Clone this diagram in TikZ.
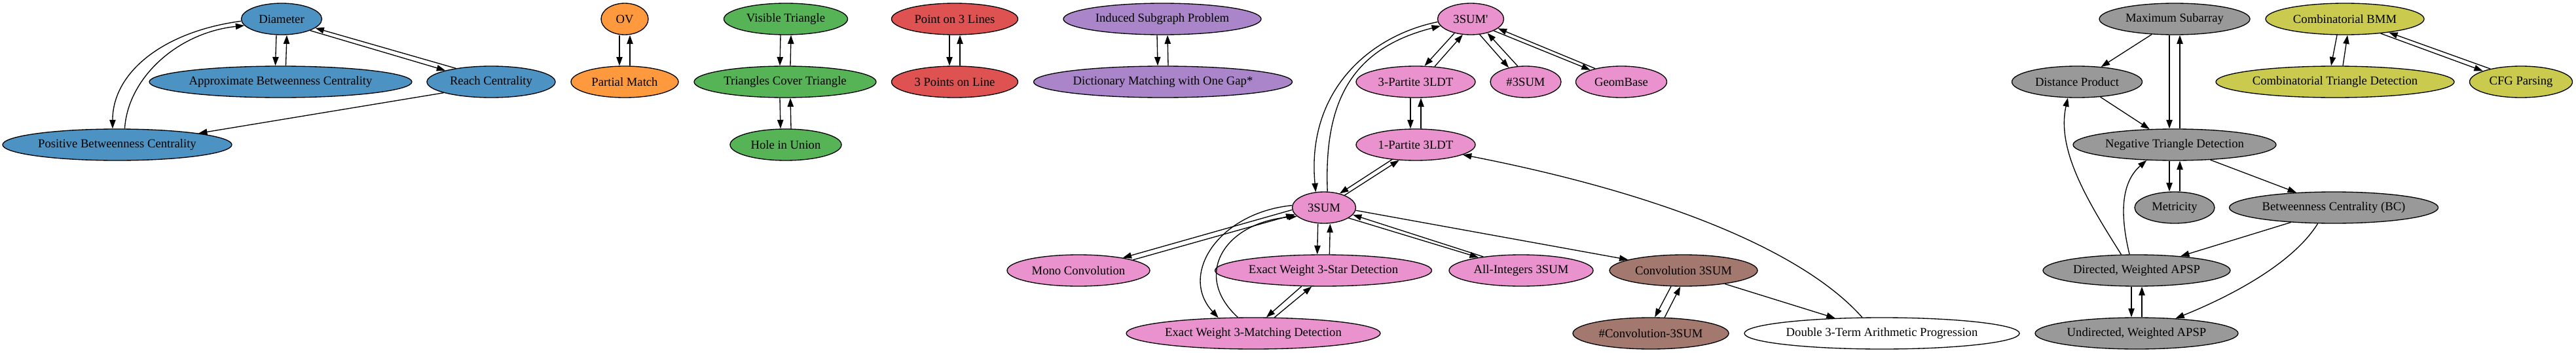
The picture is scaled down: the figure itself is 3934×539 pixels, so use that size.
\documentclass[tikz,border=0pt]{standalone}
\usepackage{fontspec}
\setmainfont{Liberation Serif}
\usetikzlibrary{shapes.geometric,arrows.meta}
\definecolor{cblue}{RGB}{76,146,195}
\definecolor{corange}{RGB}{255,153,62}
\definecolor{cgreen}{RGB}{86,179,86}
\definecolor{cred}{RGB}{222,82,82}
\definecolor{cpurple}{RGB}{170,133,202}
\definecolor{cbrown}{RGB}{163,120,111}
\definecolor{cpink}{RGB}{233,146,206}
\definecolor{cgray}{RGB}{153,153,153}
\definecolor{colive}{RGB}{201,202,78}
\newcommand\nodelbl[1]{\makebox[0pt]{#1}}
\tikzset{
  nd/.style={ellipse, draw=black, line width=1pt, inner sep=0pt, minimum height=36pt,
    font=\fontsize{14pt}{16pt}\selectfont},
  e/.style={-{Triangle[length=10pt,width=7pt]}, line width=1pt},
}
\begin{document}
\begin{tikzpicture}[x=0.75pt,y=-0.75pt]
\fill[white] (0,0) rectangle (3934,539);
\useasboundingbox (0,0) rectangle (3934,539);
% blue
\node[nd,fill=cblue,minimum width=92.25pt] (diam) at (430,29) {\nodelbl{Diameter}};
\node[nd,fill=cblue,minimum width=300.75pt] (abc) at (428.5,125) {\nodelbl{Approximate Betweenness Centrality}};
\node[nd,fill=cblue,minimum width=147pt] (reach) at (750,125) {\nodelbl{Reach Centrality}};
\node[nd,fill=cblue,minimum width=262.5pt] (pbc) at (179,221) {\nodelbl{Positive Betweenness Centrality}};
% orange
\node[nd,fill=corange,minimum width=54pt] (ov) at (954,29) {\nodelbl{OV}};
\node[nd,fill=corange,minimum width=123pt] (pm) at (954,125) {\nodelbl{Partial Match}};
% green
\node[nd,fill=cgreen,minimum width=141.75pt] (vt) at (1200,29) {\nodelbl{Visible Triangle}};
\node[nd,fill=cgreen,minimum width=208.5pt] (tct) at (1199,125) {\nodelbl{Triangles Cover Triangle}};
\node[nd,fill=cgreen,minimum width=127.5pt] (hiu) at (1200,221) {\nodelbl{Hole in Union}};
% red
\node[nd,fill=cred,minimum width=144.75pt] (p3l) at (1458,29) {\nodelbl{Point on 3 Lines}};
\node[nd,fill=cred,minimum width=144.75pt] (tpl) at (1458,125) {\nodelbl{3 Points on Line}};
% purple
\node[nd,fill=cpurple,minimum width=226.5pt] (isp) at (1775,29) {\nodelbl{Induced Subgraph Problem}};
\node[nd,fill=cpurple,minimum width=296.25pt] (dm) at (1776,125) {\nodelbl{Dictionary Matching with One Gap*}};
% pink / brown
\node[nd,fill=cpink,minimum width=75.75pt] (s3p) at (2246,29) {\nodelbl{3SUM\textquotesingle}};
\node[nd,fill=cpink,minimum width=136.5pt] (p3ldt) at (2162,125) {\nodelbl{3-Partite 3LDT}};
\node[nd,fill=cpink,minimum width=81pt] (h3sum) at (2330,125) {\nodelbl{\#3SUM}};
\node[nd,fill=cpink,minimum width=104.25pt] (geom) at (2476,125) {\nodelbl{GeomBase}};
\node[nd,fill=cpink,minimum width=136.5pt] (p1ldt) at (2162,221) {\nodelbl{1-Partite 3LDT}};
\node[nd,fill=cpink,minimum width=72.75pt] (s3) at (2022,317) {\nodelbl{3SUM}};
\node[nd,fill=cpink,minimum width=163.5pt] (mono) at (1647,413) {\nodelbl{Mono Convolution}};
\node[nd,fill=cpink,minimum width=248.25pt] (ew3s) at (2021,413) {\nodelbl{Exact Weight 3-Star Detection}};
\node[nd,fill=cpink,minimum width=165pt] (ai3) at (2323,413) {\nodelbl{All-Integers 3SUM}};
\node[nd,fill=cbrown,minimum width=169.5pt] (c3s) at (2571,413) {\nodelbl{Convolution 3SUM}};
\node[nd,fill=cpink,minimum width=291pt] (ew3m) at (1914,509) {\nodelbl{Exact Weight 3-Matching Detection}};
\node[nd,fill=cbrown,minimum width=178.5pt] (hc3s) at (2521,509) {\nodelbl{\#Convolution-3SUM}};
\node[nd,fill=white,minimum width=315pt] (d3t) at (2874,509) {\nodelbl{Double 3-Term Arithmetic Progression}};
% gray
\node[nd,fill=cgray,minimum width=172.5pt] (ms) at (3321,29) {\nodelbl{Maximum Subarray}};
\node[nd,fill=cgray,minimum width=149.25pt] (dp) at (3172,125) {\nodelbl{Distance Product}};
\node[nd,fill=cgray,minimum width=232.5pt] (ntd) at (3321,221) {\nodelbl{Negative Triangle Detection}};
\node[nd,fill=cgray,minimum width=91.5pt] (met) at (3321,317) {\nodelbl{Metricity}};
\node[nd,fill=cgray,minimum width=239.25pt] (bc) at (3564,317) {\nodelbl{Betweenness Centrality (BC)}};
\node[nd,fill=cgray,minimum width=214.5pt] (dapsp) at (3263,413) {\nodelbl{Directed, Weighted APSP}};
\node[nd,fill=cgray,minimum width=232.5pt] (uapsp) at (3263,509) {\nodelbl{Undirected, Weighted APSP}};
% olive
\node[nd,fill=colive,minimum width=181.5pt] (cbmm) at (3581,29) {\nodelbl{Combinatorial BMM}};
\node[nd,fill=colive,minimum width=273pt] (ctd) at (3566,125) {\nodelbl{Combinatorial Triangle Detection}};
\node[nd,fill=colive,minimum width=117.75pt] (cfg) at (3850,125) {\nodelbl{CFG Parsing}};

% ---- edges: blue
\draw[e] ([xshift=-6pt]diam.south) -- ([xshift=-6pt]abc.north);
\draw[e] ([xshift=6pt]abc.north) -- ([xshift=6pt]diam.south);
\draw[e] (diam.-22) -- (reach.166);
\draw[e] (reach.159) -- (diam.-15);
\draw[e] (diam.183) .. controls (250,48) and (172,110) .. (pbc.106);
\draw[e] (pbc.65) .. controls (195,120) and (270,50) .. (diam.190);
\draw[e] (reach.193) -- (pbc.8);
% orange, green, red, purple
\draw[e] ([xshift=-6pt]ov.south) -- ([xshift=-6pt]pm.north);
\draw[e] ([xshift=6pt]pm.north) -- ([xshift=6pt]ov.south);
\draw[e] ([xshift=-6pt]vt.south) -- ([xshift=-6pt]tct.north);
\draw[e] ([xshift=6pt]tct.north) -- ([xshift=6pt]vt.south);
\draw[e] ([xshift=-6pt]tct.south) -- ([xshift=-6pt]hiu.north);
\draw[e] ([xshift=6pt]hiu.north) -- ([xshift=6pt]tct.south);
\draw[e] ([xshift=-6pt]p3l.south) -- ([xshift=-6pt]tpl.north);
\draw[e] ([xshift=6pt]tpl.north) -- ([xshift=6pt]p3l.south);
\draw[e] ([xshift=-6pt]isp.south) -- ([xshift=-6pt]dm.north);
\draw[e] ([xshift=6pt]dm.north) -- ([xshift=6pt]isp.south);
% pink
\draw[e] (s3p.221) -- (p3ldt.61);
\draw[e] (p3ldt.39) -- (s3p.243);
\draw[e] (s3p.-60) -- (h3sum.140);
\draw[e] (h3sum.117) -- (s3p.-40);
\draw[e] (s3p.-27) -- (geom.159);
\draw[e] (geom.153) -- (s3p.-19);
\draw[e] ([xshift=-6pt]p3ldt.south) -- ([xshift=-6pt]p1ldt.north);
\draw[e] ([xshift=6pt]p1ldt.north) -- ([xshift=6pt]p3ldt.south);
\draw[e] (s3p.185) .. controls (2090,55) and (1995,140) .. (s3.118);
\draw[e] (s3.78) .. controls (2022,160) and (2060,75) .. (s3p.193);
\draw[e] (p1ldt.212) -- (s3.42);
\draw[e] (s3.31) -- (p1ldt.223);
\draw[e] (d3t.141) .. controls (2760,390) and (2560,300) .. (p1ldt.-12);
\draw[e] (s3.184) -- (mono.16);
\draw[e] (mono.11) -- (s3.193);
\draw[e] (s3.176) .. controls (1860,325) and (1800,420) .. (ew3m.156);
\draw[e] (ew3m.134) .. controls (1820,420) and (1870,340) .. (s3.198);
\draw[e] ([xshift=-7pt]s3.south) -- ([xshift=-7pt]ew3s.north);
\draw[e] ([xshift=7pt]ew3s.north) -- ([xshift=7pt]s3.south);
\draw[e] (s3.-23) -- (ai3.163);
\draw[e] (ai3.160) -- (s3.-14);
\draw[e] (s3.-5) -- (c3s.169);
\draw[e] (ew3s.216) -- (ew3m.51);
\draw[e] (ew3m.37) -- (ew3s.234);
\draw[e] (c3s.232) -- (hc3s.76);
\draw[e] (hc3s.49) -- (c3s.259);
\draw[e] (c3s.-18) -- (d3t.162);
% gray
\draw[e] (ms.214) -- (dp.32);
\draw[e] ([xshift=-6pt]ms.south) -- ([xshift=-6pt]ntd.north);
\draw[e] ([xshift=6pt]ntd.north) -- ([xshift=6pt]ms.south);
\draw[e] (dp.-33) -- (ntd.148);
\draw[e] ([xshift=-6pt]ntd.south) -- ([xshift=-6pt]met.north);
\draw[e] ([xshift=6pt]met.north) -- ([xshift=6pt]ntd.south);
\draw[e] (ntd.-23) -- (bc.158);
\draw[e] (bc.199) -- (dapsp.18);
\draw[e] (bc.225) .. controls (3500,405) and (3400,455) .. (uapsp.21);
\draw[e] (dapsp.134) .. controls (3190,310) and (3140,230) .. (dp.240);
\draw[e] (dapsp.114) .. controls (3238,330) and (3238,280) .. (ntd.209);
\draw[e] ([xshift=-6pt]dapsp.south) -- ([xshift=-6pt]uapsp.north);
\draw[e] ([xshift=6pt]uapsp.north) -- ([xshift=6pt]dapsp.south);
% olive
\draw[e] ([xshift=-9pt]cbmm.south) -- ([xshift=-4.5pt]ctd.north);
\draw[e] ([xshift=9pt]ctd.north) -- ([xshift=3pt]cbmm.south);
\draw[e] (cbmm.-22) -- (cfg.164);
\draw[e] (cfg.157) -- (cbmm.-17);
\end{tikzpicture}
\end{document}
